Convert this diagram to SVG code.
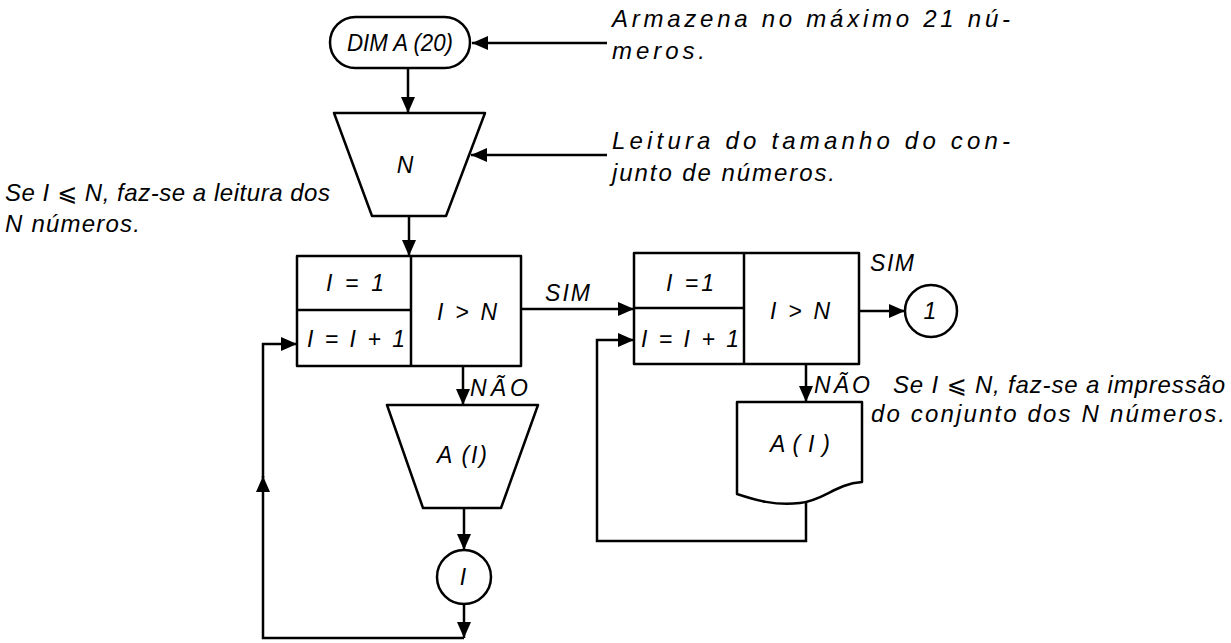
<svg xmlns="http://www.w3.org/2000/svg" width="1231" height="643" viewBox="0 0 1231 643">
<defs>
<marker id="ah" viewBox="0 0 16 14" refX="16" refY="7" markerWidth="16" markerHeight="14" markerUnits="userSpaceOnUse" orient="auto">
<path d="M0,0 L16,7 L0,14 Z" fill="#000"/>
</marker>
</defs>
<style>
.s{fill:#fff;stroke:#000;stroke-width:2.5;stroke-linejoin:round}
.c{fill:none;stroke:#000;stroke-width:2.5}
.a{marker-end:url(#ah)}
text{font-family:"Liberation Sans","DejaVu Sans",Arial,sans-serif;font-style:italic;font-size:24px;fill:#000}
.m{text-anchor:middle}
.n{font-size:23px}
</style>
<rect width="1231" height="643" fill="#fff"/>

<g id="connectors">
<line class="c a" x1="607" y1="43" x2="472" y2="43"/>
<line class="c a" x1="408" y1="68" x2="408" y2="113"/>
<line class="c a" x1="607" y1="155" x2="471" y2="155"/>
<line class="c a" x1="409" y1="216" x2="409" y2="256"/>
<line class="c a" x1="521" y1="309" x2="634" y2="309"/>
<line class="c a" x1="859" y1="311" x2="905" y2="311"/>
<line class="c a" x1="463" y1="366" x2="463" y2="405"/>
<line class="c a" x1="464" y1="508" x2="464" y2="550"/>
<line class="c a" x1="464" y1="604" x2="464" y2="638"/>
<path class="c a" d="M464,638 H263 V476"/>
<path class="c a" d="M263,478 V344 H297"/>
<line class="c a" x1="806" y1="364" x2="806" y2="402"/>
<path class="c a" d="M806,503 V541 H597 V340 H634"/>
<text class="n" x="545" y="301" textLength="45" lengthAdjust="spacing">SIM</text>
<text class="n" x="870" y="271" textLength="44" lengthAdjust="spacing">SIM</text>
<text class="n" x="470" y="396" textLength="58" lengthAdjust="spacing">NÃO</text>
<text class="n" x="814" y="393" textLength="56" lengthAdjust="spacing">NÃO</text>
</g>

<g id="dim">
<rect class="s" x="330" y="17" width="140" height="51" rx="25.5"/>
<text class="m n" x="400" y="51" textLength="106" lengthAdjust="spacingAndGlyphs">DIM A (20)</text>
</g>

<g id="readN">
<path class="s" d="M334,113 H485 L446,216 H372 Z"/>
<text class="m n" x="405" y="173">N</text>
</g>

<g id="loop1">
<rect class="s" x="297" y="256" width="224" height="110"/>
<line class="c" x1="411" y1="256" x2="411" y2="366"/>
<line class="c" x1="297" y1="310" x2="411" y2="310"/>
<text class="m n" x="355" y="291" textLength="58" lengthAdjust="spacing">I = 1</text>
<text class="m n" x="356" y="347" textLength="98" lengthAdjust="spacing">I = I + 1</text>
<text class="m n" x="467" y="320" textLength="60" lengthAdjust="spacing">I &gt; N</text>
</g>

<g id="readA">
<path class="s" d="M387,405 H538 L501,508 H423 Z"/>
<text class="m n" x="462" y="463" textLength="50" lengthAdjust="spacing">A (I)</text>
</g>

<g id="connI">
<circle class="s" cx="464" cy="577" r="27"/>
<text class="m n" x="463" y="585">I</text>
</g>

<g id="loop2">
<rect class="s" x="634" y="253" width="225" height="111"/>
<line class="c" x1="744" y1="253" x2="744" y2="364"/>
<line class="c" x1="634" y1="308" x2="744" y2="308"/>
<text class="m n" x="690" y="291" textLength="48" lengthAdjust="spacing">I =1</text>
<text class="m n" x="690" y="347" textLength="98" lengthAdjust="spacing">I = I + 1</text>
<text class="m n" x="800" y="319" textLength="60" lengthAdjust="spacing">I &gt; N</text>
</g>

<g id="printA">
<path class="s" d="M737,402 H862 V482 C835,484 825,500 800,503 C775,506 755,500 737,494 Z"/>
<text class="m n" x="800" y="452" textLength="60" lengthAdjust="spacing">A ( I )</text>
</g>

<g id="conn1">
<circle class="s" cx="931" cy="311" r="26"/>
<text class="m n" x="930" y="319">1</text>
</g>

<g id="notes">
<text x="612" y="27" textLength="398" lengthAdjust="spacing">Armazena no máximo 21 nú-</text>
<text x="612" y="59" textLength="93" lengthAdjust="spacing">meros.</text>
<text x="612" y="149" textLength="398" lengthAdjust="spacing">Leitura do tamanho do con-</text>
<text x="612" y="181" textLength="223" lengthAdjust="spacing">junto de números.</text>
<text x="5" y="201" textLength="325" lengthAdjust="spacing">Se I ⩽ N, faz-se a leitura dos</text>
<text x="5" y="232" textLength="135" lengthAdjust="spacing">N números.</text>
<text x="893" y="393" textLength="332" lengthAdjust="spacing">Se I ⩽ N, faz-se a impressão</text>
<text x="871" y="422" textLength="354" lengthAdjust="spacing">do conjunto dos N números.</text>
</g>
</svg>
